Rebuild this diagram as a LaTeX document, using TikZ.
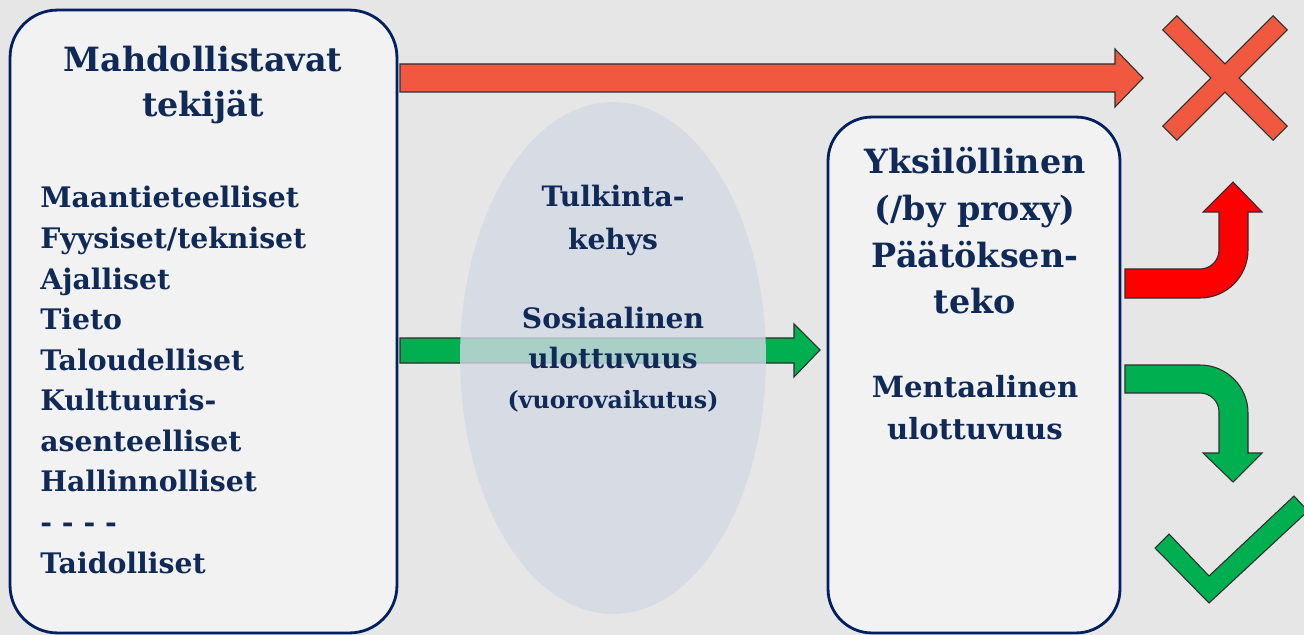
\documentclass[tikz,border=0pt]{standalone}
\usepackage{fontspec}
\setmainfont{DejaVu Serif}
\definecolor{bggray}{RGB}{230,230,230}
\definecolor{boxfill}{RGB}{242,242,242}
\definecolor{navy}{RGB}{0,32,96}
\definecolor{textnavy}{RGB}{16,42,88}
\definecolor{framefill}{RGB}{212,217,228}
\definecolor{stopred}{RGB}{240,88,64}
\definecolor{turnred}{RGB}{255,0,0}
\definecolor{gogreen}{RGB}{0,176,80}
\definecolor{edgegray}{RGB}{45,45,45}
\usetikzlibrary{shapes.geometric, positioning}

\begin{document}
\begin{tikzpicture}[x=0.02cm, y=-0.02cm,
  factorbox/.style={draw=navy, fill=boxfill, line width=1.6pt, rounded corners=27pt, inner sep=0pt},
  label/.style={text=textnavy, inner sep=0pt},
  blockarrow/.style={draw=edgegray, line width=0.6pt, line join=miter}]
  % Background
  \fill[bggray] (0,0) rectangle (1304,635);
  \useasboundingbox (0,0) rectangle (1304,635);
  \clip (0,0) rectangle (1304,635);

  % Straight arrows
  \filldraw[blockarrow, fill=stopred] (400,64) -- (1115,64) -- (1115,49) -- (1143,78) -- (1115,107) -- (1115,92) -- (400,92) -- cycle;
  \filldraw[blockarrow, fill=gogreen] (400,338) -- (794,338) -- (794,324) -- (820,350) -- (794,377) -- (794,363) -- (400,363) -- cycle;

  % Interpretation frame
  \node[ellipse, fill=framefill, opacity=0.8, minimum width=6.12cm, minimum height=10.24cm, inner sep=0pt] (frame) at (613,358) {};

  % Boxes
  \node[factorbox, minimum width=7.74cm, minimum height=12.46cm] (enablers) at (203.5,321.5) {};
  \node[factorbox, minimum width=5.84cm, minimum height=10.32cm, rounded corners=25pt] (decision) at (974,375) {};

  % Texts
  \node[label, font=\bfseries\fontsize{19}{25.5}\selectfont, align=center, anchor=north] (enablerstitle) at (203,46) {Mahdollistavat\\tekijät};
  \node[label, font=\bfseries\fontsize{16.1}{23.1}\selectfont, align=left, anchor=north west] (factorlist) at (40,186) {
    Maantieteelliset\\
    Fyysiset/tekniset\\
    Ajalliset\\
    Tieto\\
    Taloudelliset\\
    Kulttuuris-\\
    asenteelliset\\
    Hallinnolliset\\
    - - - -\\
    Taidolliset};
  \node[label, font=\bfseries\fontsize{16}{24.4}\selectfont, align=center, anchor=north] (frametitle) at (613,185) {Tulkinta-\\kehys};
  \node[label, font=\bfseries\fontsize{16}{22.7}\selectfont, align=center, anchor=north] (social) at (613,307) {Sosiaalinen\\ulottuvuus};
  \node[label, font=\bfseries\fontsize{13.5}{16}\selectfont, anchor=north] (interaction) at (613,390) {(vuorovaikutus)};
  \node[label, font=\bfseries\fontsize{19}{26.6}\selectfont, align=center, anchor=north] (decisiontitle) at (975,147) {Yksilöllinen\\(/by proxy)\\Päätöksen-\\teko};
  \node[label, font=\bfseries\fontsize{16.6}{23.8}\selectfont, align=center, anchor=north] (mental) at (975,375) {Mentaalinen\\ulottuvuus};

  % Bent arrows
  \filldraw[blockarrow, fill=turnred] (1125,269) -- (1200,269) arc[start angle=90, end angle=0, radius=19] -- (1219,212) -- (1203,212) -- (1233,182) -- (1262,212) -- (1248,212) -- (1248,250) arc[start angle=0, end angle=90, radius=48] -- (1125,298) -- cycle;
  \filldraw[blockarrow, fill=gogreen] (1125,365) -- (1200,365) arc[start angle=-90, end angle=0, radius=48] -- (1248,453) -- (1262,453) -- (1233,482) -- (1203,453) -- (1219,453) -- (1219,412) arc[start angle=0, end angle=-90, radius=19] -- (1125,393) -- cycle;

  % Cross and check
  \begin{scope}[shift={(1225,78)}, rotate=45]
    \filldraw[blockarrow, fill=stopred] (10,10) -- (78,10) -- (78,-10) -- (10,-10) -- (10,-78) -- (-10,-78) -- (-10,-10) -- (-78,-10) -- (-78,10) -- (-10,10) -- (-10,78) -- (10,78) -- cycle;
  \end{scope}
  \filldraw[blockarrow, fill=gogreen] (1155,548) -- (1209,603) -- (1308,511) -- (1294,496) -- (1209,576) -- (1169,534) -- cycle;
\end{tikzpicture}
\end{document}
